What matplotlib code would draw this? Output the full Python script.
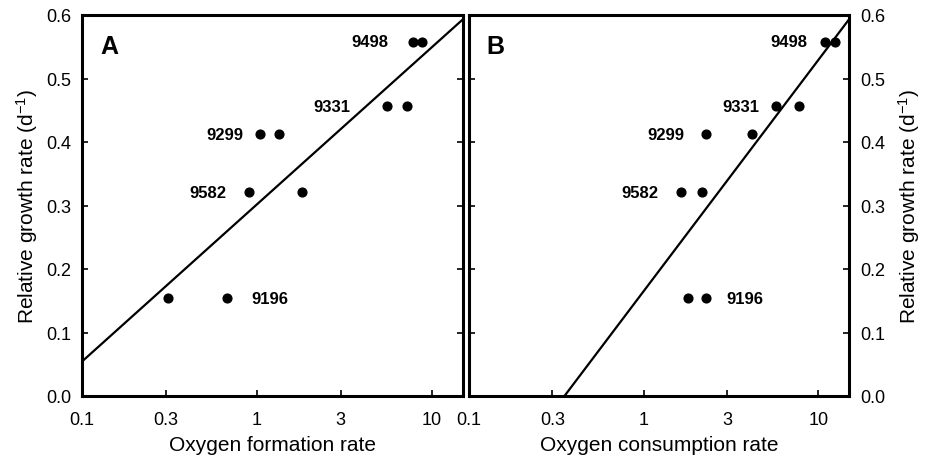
import matplotlib
matplotlib.use("Agg")
import matplotlib.pyplot as plt
import numpy as np

plt.rcParams['font.family'] = ['Liberation Sans', 'DejaVu Sans']
plt.rcParams['mathtext.fontset'] = 'custom'
plt.rcParams['mathtext.rm'] = 'Liberation Sans'
plt.rcParams['mathtext.it'] = 'Liberation Sans:italic'
plt.rcParams['mathtext.default'] = 'regular'

strains = ["9498", "9331", "9299", "9582", "9196"]
growth = [0.558, 0.456, 0.412, 0.321, 0.154]

# panel A: oxygen formation rate (two values per strain)
form_lo = [7.8, 5.5, 1.04, 0.90, 0.308]
form_hi = [8.8, 7.2, 1.33, 1.81, 0.67]
# panel B: oxygen consumption rate
cons_lo = [10.9, 5.7, 2.27, 1.64, 1.79]
cons_hi = [12.5, 7.8, 4.18, 2.17, 2.27]

# regression lines y = a + b*log10(x)
fit_A = (0.302, 0.2477)
fit_B = (0.165, 0.364)

ticks = [0.1, 0.3, 1, 3, 10]
tick_labels = ["0.1", "0.3", "1", "3", "10"]
yticks = [0.0, 0.1, 0.2, 0.3, 0.4, 0.5, 0.6]

# label offsets in pixels (side, dx)
offs_A = [(-1, -25), (-1, -36), (-1, -17), (-1, -23), (1, 25)]
offs_B = [(-1, -17), (-1, -16), (-1, -21), (-1, -23), (1, 21)]

fig = plt.figure(figsize=(9.28, 4.56), dpi=100)
axA = fig.add_axes([82/928, 1-397/456, (463-82)/928, (397-16)/456])
axB = fig.add_axes([469/928, 1-397/456, (849-469)/928, (397-16)/456])

def draw(ax, lo, hi, fit, offs, letter, xlabel):
    ax.set_xscale('log')
    ax.set_xlim(0.1, 15)
    ax.set_ylim(0, 0.6)
    xs = np.logspace(-1, np.log10(15), 200)
    ys = fit[0] + fit[1]*np.log10(xs)
    ax.plot(xs, ys, color='black', lw=1.6, zorder=2)
    ax.plot(lo, growth, 'o', color='black', ms=6.3, zorder=3)
    ax.plot(hi, growth, 'o', color='black', ms=6.3, zorder=3)
    for s, g, l, h, (side, dx) in zip(strains, growth, lo, hi, offs):
        if side < 0:
            ax.annotate(s, (l, g), xytext=(dx, 0), textcoords='offset pixels',
                        ha='right', va='center', fontsize=12, fontweight='bold')
        else:
            ax.annotate(s, (h, g), xytext=(dx, 0), textcoords='offset pixels',
                        ha='left', va='center', fontsize=12, fontweight='bold')
    ax.text(0.047, 0.919, letter, transform=ax.transAxes, fontsize=18,
            fontweight='bold', ha='left', va='center')
    ax.set_xticks(ticks)
    ax.set_xticklabels(tick_labels)
    ax.xaxis.set_minor_locator(matplotlib.ticker.NullLocator())
    ax.set_yticks(yticks)
    ax.set_yticklabels([f"{v:.1f}" for v in yticks])
    ax.tick_params(direction='in', length=4, width=1.2, labelsize=13)
    ax.tick_params(axis='y', left=True, right=True)
    for sp in ax.spines.values():
        sp.set_linewidth(2.2)
    ax.set_xlabel(xlabel, fontsize=15, labelpad=5)

draw(axA, form_lo, form_hi, fit_A, offs_A, "A", "Oxygen formation rate")
draw(axB, cons_lo, cons_hi, fit_B, offs_B, "B", "Oxygen consumption rate")

axA.set_ylabel("Relative growth rate (d$^{-1}$)", fontsize=15, labelpad=4)
axA.tick_params(axis='x', pad=11)
axB.tick_params(axis='x', pad=11)
axB.tick_params(axis='y', labelleft=False, labelright=True, pad=8)
axA.tick_params(axis='y', pad=8)
axB.yaxis.set_label_position('right')
axB.set_ylabel("Relative growth rate (d$^{-1}$)", fontsize=15, labelpad=8)

fig.savefig("out.png", dpi=100)
